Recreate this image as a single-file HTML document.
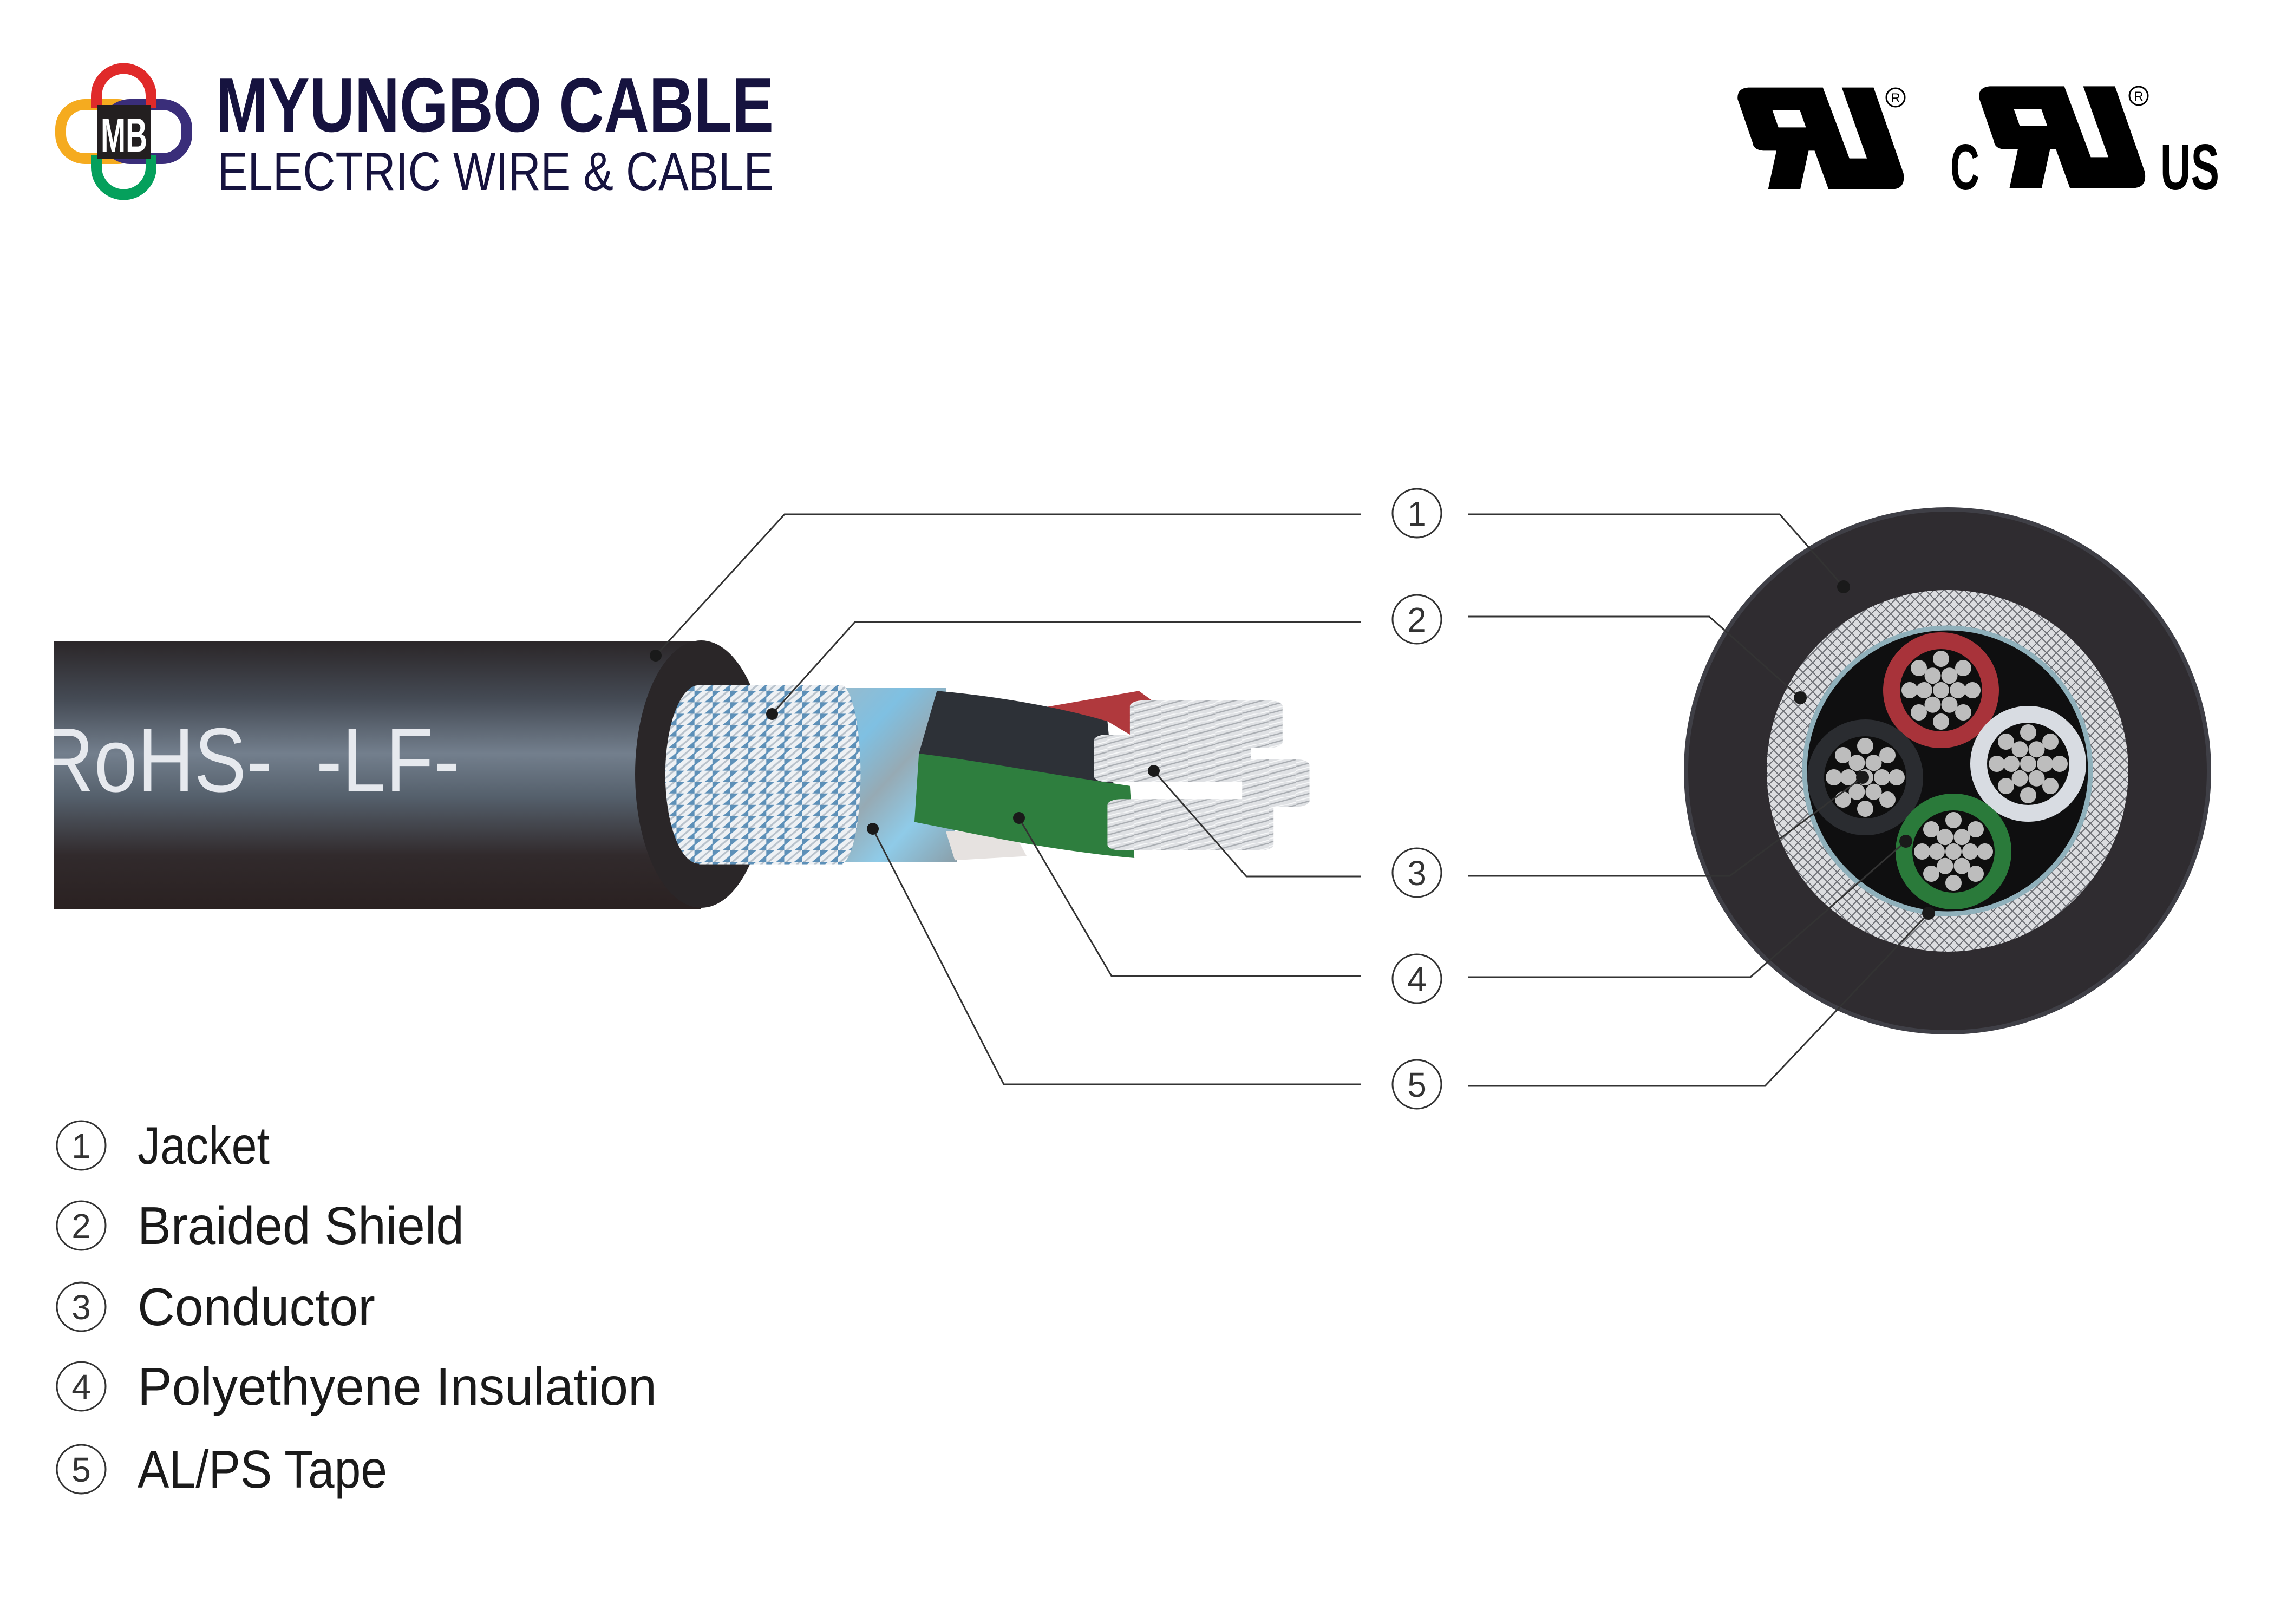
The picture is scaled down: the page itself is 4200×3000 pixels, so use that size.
<!DOCTYPE html>
<html><head><meta charset="utf-8"><style>
html,body{margin:0;padding:0;background:#fff;}
svg{display:block;}
</style></head><body>
<svg width="4200" height="3000" viewBox="0 0 4200 3000" xmlns="http://www.w3.org/2000/svg">
<defs>
<linearGradient id="body" x1="0" y1="1184" x2="0" y2="1680" gradientUnits="userSpaceOnUse">
<stop offset="0" stop-color="#2b2628"/><stop offset="0.22" stop-color="#454b55"/>
<stop offset="0.42" stop-color="#737f8d"/><stop offset="0.58" stop-color="#55606c"/>
<stop offset="0.8" stop-color="#312a2c"/><stop offset="1" stop-color="#2a2121"/>
</linearGradient>
<pattern id="braid" width="40" height="60" patternUnits="userSpaceOnUse">
<rect width="40" height="60" fill="#5d90b8"/>
<path d="M-10,70 L30,-10 M10,70 L50,-10" stroke="#eef1f4" stroke-width="13"/>
<path d="M0,70 L40,-10" stroke="#b9c2cb" stroke-width="5"/>
</pattern>
<linearGradient id="foil" x1="0" y1="0" x2="1" y2="1">
<stop offset="0" stop-color="#a7b7bf"/><stop offset="0.35" stop-color="#7fc0e2"/>
<stop offset="0.55" stop-color="#96aab4"/><stop offset="0.75" stop-color="#8fcbe8"/>
<stop offset="1" stop-color="#8a9ea8"/>
</linearGradient>
<pattern id="strand" width="60" height="40" patternUnits="userSpaceOnUse">
<rect width="60" height="40" fill="#dfe1e4"/>
<path d="M-10,45 L70,-5" stroke="#a9adb2" stroke-width="6"/>
<path d="M-10,25 L40,-5 M30,45 L70,20" stroke="#f7f8f9" stroke-width="5"/>
</pattern>
<pattern id="ringp" width="18" height="18" patternUnits="userSpaceOnUse">
<rect width="18" height="18" fill="#dcdde0"/>
<path d="M0,18 L18,0 M0,0 L18,18" stroke="#6a6c72" stroke-width="2"/>
</pattern>
</defs>

<!-- Logo icon -->
<rect x="112" y="193" width="150" height="100" rx="45" fill="none" stroke="#f5ab1f" stroke-width="20"/>
<rect x="195" y="193" width="150" height="100" rx="45" fill="none" stroke="#3a2e7a" stroke-width="20"/>
<path d="M178,200 V177 A50.5,50.5 0 0 1 279,177 V200" fill="none" stroke="#e02a2a" stroke-width="20"/>
<path d="M178,286 V309 A50.5,50.5 0 0 0 279,309 V286" fill="none" stroke="#05a05c" stroke-width="20"/>
<rect x="179" y="194" width="99" height="99" fill="#231f20"/>
<text x="186" y="280" font-family="Liberation Sans, sans-serif" font-weight="bold" font-size="88" fill="#fff" textLength="86" lengthAdjust="spacingAndGlyphs">MB</text>
<text x="399" y="243" font-family="Liberation Sans, sans-serif" font-weight="bold" font-size="142" fill="#16133f" textLength="1030" lengthAdjust="spacingAndGlyphs">MYUNGBO CABLE</text>
<text x="402" y="351" font-family="Liberation Sans, sans-serif" font-size="100" fill="#16133f" textLength="1027" lengthAdjust="spacingAndGlyphs">ELECTRIC WIRE &amp; CABLE</text>

<!-- UL marks -->
<g transform="translate(3180,130) scale(0.6124,0.3333)">
<path fill-rule="evenodd" fill="#000" d="M80,95 L305,95 L385,488 L438,488 L362,95 L458,95 L548,570 Q555,650 520,658 L322,658 L280,445 L262,445 L237,658 L140,658 L165,445 L125,445 Q95,440 93,400 L48,160 Q45,100 80,95 Z M153,222 L236,222 L254,316 L171,316 Z"/>
<g transform="translate(728,-7)"><path fill-rule="evenodd" fill="#000" d="M80,95 L305,95 L385,488 L438,488 L362,95 L458,95 L548,570 Q555,650 520,658 L322,658 L280,445 L262,445 L237,658 L140,658 L165,445 L125,445 Q95,440 93,400 L48,160 Q45,100 80,95 Z M153,222 L236,222 L254,316 L171,316 Z"/></g>
</g>
<circle cx="3501" cy="180" r="17" fill="none" stroke="#000" stroke-width="3"/>
<text x="3501" y="189" text-anchor="middle" font-family="Liberation Sans, sans-serif" font-size="24" fill="#000">R</text>
<circle cx="3950" cy="177" r="17" fill="none" stroke="#000" stroke-width="3"/>
<text x="3950" y="186" text-anchor="middle" font-family="Liberation Sans, sans-serif" font-size="24" fill="#000">R</text>
<text x="3602" y="350" font-family="Liberation Sans, sans-serif" font-weight="bold" font-size="120" fill="#000" textLength="54" lengthAdjust="spacingAndGlyphs">C</text>
<text x="3990" y="350" font-family="Liberation Sans, sans-serif" font-weight="bold" font-size="120" fill="#000" textLength="109" lengthAdjust="spacingAndGlyphs">US</text>

<!-- Side view cable -->
<rect x="99" y="1184" width="1196" height="496" fill="url(#body)"/>
<ellipse cx="1295" cy="1430" rx="122" ry="247" fill="#2a2628"/>
<svg x="99" y="1184" width="1100" height="496" overflow="hidden">
<text x="-30" y="278" font-family="Liberation Sans, sans-serif" font-size="168" fill="#e6e9ee" textLength="780" lengthAdjust="spacingAndGlyphs" xml:space="preserve">RoHS-  -LF-</text>
</svg>
<g transform="translate(1150,1150) scale(0.8291,0.3508)">
<path d="M390,345 L720,345 L745,1262 L440,1262 Q370,800 390,345 Z" fill="url(#foil)"/>
<ellipse cx="170" cy="800" rx="75" ry="470" fill="url(#braid)"/>
<rect x="170" y="328" width="320" height="945" fill="url(#braid)"/>
<ellipse cx="485" cy="800" rx="45" ry="472" fill="url(#braid)"/>
<path d="M930,450 L1150,360 L1185,420 L1130,590 L1080,520 Z" fill="#b0393d"/>
<path d="M700,360 C800,380 950,430 1080,520 L1095,890 C950,850 800,760 660,690 Z" fill="#2d3137"/>
<path d="M720,1100 L870,1100 L900,1230 L740,1252 Z" fill="#e6e2e0"/>
<path d="M660,690 C800,730 950,800 1130,860 L1140,1240 C950,1200 800,1120 650,1050 Z" fill="#2e7e3e"/>
<rect x="1130" y="410" width="340" height="250" rx="30" fill="url(#strand)"/>
<rect x="1380" y="720" width="150" height="250" rx="30" fill="url(#strand)"/>
<rect x="1050" y="590" width="350" height="250" rx="30" fill="url(#strand)"/>
<rect x="1080" y="930" width="370" height="270" rx="30" fill="url(#strand)"/>
</g>

<!-- Cross-section -->
<circle cx="3597" cy="1424" r="483" fill="#2f2c30"/>
<circle cx="3597" cy="1424" r="483" fill="none" stroke="#3f3f46" stroke-width="8"/>
<circle cx="3597" cy="1424" r="334" fill="url(#ringp)"/>
<circle cx="3597" cy="1424" r="264" fill="#0f0f10" stroke="#8fb0bb" stroke-width="9"/>
<g>
<circle cx="3585" cy="1275" r="107" fill="#a8333a"/>
<circle cx="3746" cy="1411" r="107" fill="#d8dce2"/>
<circle cx="3445" cy="1436" r="107" fill="#2a2c30"/>
<circle cx="3608" cy="1573" r="107" fill="#2a7a3a"/>
</g>
<g fill="#0e0e0e">
<circle cx="3585" cy="1275" r="76"/><circle cx="3746" cy="1411" r="76"/>
<circle cx="3445" cy="1436" r="76"/><circle cx="3608" cy="1573" r="76"/>
</g>
<g fill="#bdbdbd">
<g transform="translate(3585,1275)"><circle r="15"/><circle cx="31" r="15"/><circle cx="-31" r="15"/><circle cx="15.5" cy="26.8" r="15"/><circle cx="-15.5" cy="26.8" r="15"/><circle cx="15.5" cy="-26.8" r="15"/><circle cx="-15.5" cy="-26.8" r="15"/><circle cx="58" r="15"/><circle cx="-58" r="15"/><circle cx="0" cy="58" r="15"/><circle cx="0" cy="-58" r="15"/><circle cx="41" cy="41" r="15"/><circle cx="-41" cy="41" r="15"/><circle cx="41" cy="-41" r="15"/><circle cx="-41" cy="-41" r="15"/></g>
<g transform="translate(3746,1411)"><circle r="15"/><circle cx="31" r="15"/><circle cx="-31" r="15"/><circle cx="15.5" cy="26.8" r="15"/><circle cx="-15.5" cy="26.8" r="15"/><circle cx="15.5" cy="-26.8" r="15"/><circle cx="-15.5" cy="-26.8" r="15"/><circle cx="58" r="15"/><circle cx="-58" r="15"/><circle cx="0" cy="58" r="15"/><circle cx="0" cy="-58" r="15"/><circle cx="41" cy="41" r="15"/><circle cx="-41" cy="41" r="15"/><circle cx="41" cy="-41" r="15"/><circle cx="-41" cy="-41" r="15"/></g>
<g transform="translate(3445,1436)"><circle r="15"/><circle cx="31" r="15"/><circle cx="-31" r="15"/><circle cx="15.5" cy="26.8" r="15"/><circle cx="-15.5" cy="26.8" r="15"/><circle cx="15.5" cy="-26.8" r="15"/><circle cx="-15.5" cy="-26.8" r="15"/><circle cx="58" r="15"/><circle cx="-58" r="15"/><circle cx="0" cy="58" r="15"/><circle cx="0" cy="-58" r="15"/><circle cx="41" cy="41" r="15"/><circle cx="-41" cy="41" r="15"/><circle cx="41" cy="-41" r="15"/><circle cx="-41" cy="-41" r="15"/></g>
<g transform="translate(3608,1573)"><circle r="15"/><circle cx="31" r="15"/><circle cx="-31" r="15"/><circle cx="15.5" cy="26.8" r="15"/><circle cx="-15.5" cy="26.8" r="15"/><circle cx="15.5" cy="-26.8" r="15"/><circle cx="-15.5" cy="-26.8" r="15"/><circle cx="58" r="15"/><circle cx="-58" r="15"/><circle cx="0" cy="58" r="15"/><circle cx="0" cy="-58" r="15"/><circle cx="41" cy="41" r="15"/><circle cx="-41" cy="41" r="15"/><circle cx="41" cy="-41" r="15"/><circle cx="-41" cy="-41" r="15"/></g>
</g>

<!-- Leader lines -->
<g fill="none" stroke="#333" stroke-width="3">
<path d="M2513,950 H1449 L1211,1211"/><path d="M2711,950 H3287 L3405,1084"/>
<path d="M2513,1149 H1579 L1426,1319"/><path d="M2711,1139 H3157 L3325,1289"/>
<path d="M2513,1619 H2302 L2131,1424"/><path d="M2711,1618 H3195 L3440,1436"/>
<path d="M2513,1803 H2053 L1882,1511"/><path d="M2711,1805 H3233 L3520,1554"/>
<path d="M2513,2003 H1854 L1612,1531"/><path d="M2711,2006 H3260 L3562,1687"/>
</g>
<g fill="#1a1a1a">
<circle cx="1211" cy="1211" r="11"/><circle cx="3405" cy="1084" r="12"/>
<circle cx="1426" cy="1319" r="11"/><circle cx="3325" cy="1289" r="12"/>
<circle cx="2131" cy="1424" r="11"/><circle cx="3440" cy="1436" r="12"/>
<circle cx="1882" cy="1511" r="11"/><circle cx="3520" cy="1554" r="12"/>
<circle cx="1612" cy="1531" r="11"/><circle cx="3562" cy="1687" r="12"/>
</g>

<!-- Number circles -->
<g font-family="Liberation Sans, sans-serif" font-size="64" fill="#333" text-anchor="middle">
<g fill="none" stroke="#333" stroke-width="3">
<circle cx="2617" cy="948" r="45"/><circle cx="2617" cy="1144" r="45"/><circle cx="2617" cy="1612" r="45"/><circle cx="2617" cy="1808" r="45"/><circle cx="2617" cy="2003" r="45"/>
<circle cx="150" cy="2116" r="45"/><circle cx="150" cy="2264" r="45"/><circle cx="150" cy="2414" r="45"/><circle cx="150" cy="2561" r="45"/><circle cx="150" cy="2714" r="45"/>
</g>
<text x="2617" y="971">1</text><text x="2617" y="1167">2</text><text x="2617" y="1635">3</text><text x="2617" y="1831">4</text><text x="2617" y="2026">5</text>
<text x="150" y="2139">1</text><text x="150" y="2287">2</text><text x="150" y="2437">3</text><text x="150" y="2584">4</text><text x="150" y="2737">5</text>
</g>

<!-- Legend -->
<g font-family="Liberation Sans, sans-serif" font-size="98" fill="#1a1a1a">
<text x="254" y="2150" textLength="244" lengthAdjust="spacingAndGlyphs">Jacket</text>
<text x="254" y="2298" textLength="603" lengthAdjust="spacingAndGlyphs">Braided Shield</text>
<text x="254" y="2448" textLength="439" lengthAdjust="spacingAndGlyphs">Conductor</text>
<text x="254" y="2595" textLength="959" lengthAdjust="spacingAndGlyphs">Polyethyene Insulation</text>
<text x="254" y="2748" textLength="461" lengthAdjust="spacingAndGlyphs">AL/PS Tape</text>
</g>
</svg>
</body></html>
